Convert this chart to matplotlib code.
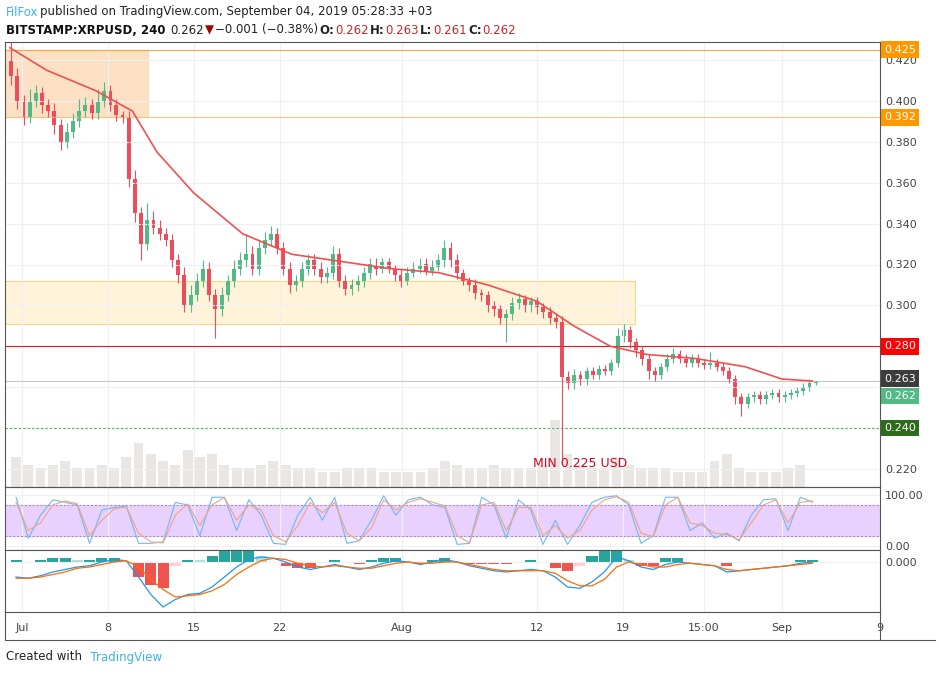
import numpy as np
import matplotlib.pyplot as plt
from matplotlib.patches import Rectangle

# half-day closes, Jul 1 .. Sep 4
closes = [0.412, 0.400, 0.392, 0.400, 0.404, 0.398, 0.395, 0.388, 0.380, 0.385,
          0.390, 0.395, 0.398, 0.394, 0.400, 0.405, 0.398, 0.393, 0.392, 0.362,
          0.345, 0.330, 0.342, 0.338, 0.335, 0.332, 0.322, 0.315, 0.300, 0.305,
          0.312, 0.318, 0.305, 0.298, 0.305, 0.312, 0.318, 0.322, 0.325, 0.318,
          0.328, 0.332, 0.335, 0.328, 0.318, 0.310, 0.312, 0.318, 0.322, 0.318,
          0.314, 0.316, 0.325, 0.312, 0.308, 0.310, 0.312, 0.316, 0.320, 0.318,
          0.321, 0.318, 0.315, 0.312, 0.316, 0.318, 0.320, 0.317, 0.319, 0.322,
          0.328, 0.322, 0.316, 0.312, 0.310, 0.306, 0.305, 0.300, 0.298, 0.294,
          0.296, 0.301, 0.303, 0.300, 0.302, 0.299, 0.297, 0.294, 0.292, 0.265,
          0.262, 0.266, 0.264, 0.268, 0.266, 0.269, 0.268, 0.272, 0.285, 0.288,
          0.282, 0.278, 0.274, 0.268, 0.266, 0.270, 0.274, 0.276, 0.274, 0.272,
          0.274, 0.272, 0.271, 0.272, 0.270, 0.268, 0.264, 0.255, 0.252, 0.255,
          0.256, 0.254, 0.256, 0.257, 0.255, 0.256, 0.257, 0.258, 0.260, 0.262,
          0.262]
first_open = 0.420
# wick extensions (price above / below body) per half-day candle
wick_up = [0.010, 0.004, 0.003, 0.006, 0.004, 0.003, 0.003, 0.004, 0.003, 0.004,
           0.004, 0.006, 0.004, 0.003, 0.006, 0.004, 0.003, 0.003, 0.002, 0.003,
           0.004, 0.003, 0.008, 0.004, 0.004, 0.003, 0.003, 0.003, 0.004, 0.005,
           0.004, 0.004, 0.003, 0.003, 0.004, 0.003, 0.004, 0.004, 0.010, 0.004,
           0.004, 0.004, 0.004, 0.003, 0.003, 0.003, 0.003, 0.003, 0.003, 0.003,
           0.003, 0.003, 0.004, 0.003, 0.003, 0.003, 0.003, 0.003, 0.003, 0.003,
           0.002, 0.002, 0.002, 0.003, 0.003, 0.003, 0.003, 0.003, 0.003, 0.003,
           0.004, 0.003, 0.003, 0.002, 0.002, 0.003, 0.002, 0.002, 0.002, 0.002,
           0.002, 0.003, 0.003, 0.002, 0.002, 0.002, 0.002, 0.002, 0.002, 0.003,
           0.003, 0.003, 0.002, 0.002, 0.002, 0.002, 0.002, 0.002, 0.004, 0.003,
           0.002, 0.002, 0.002, 0.002, 0.002, 0.002, 0.002, 0.003, 0.002, 0.002,
           0.002, 0.002, 0.002, 0.005, 0.002, 0.002, 0.002, 0.002, 0.002, 0.002,
           0.002, 0.002, 0.002, 0.002, 0.002, 0.002, 0.002, 0.002, 0.002, 0.002,
           0.001]
wick_dn = [0.004, 0.004, 0.004, 0.003, 0.003, 0.004, 0.003, 0.004, 0.004, 0.003,
           0.003, 0.003, 0.003, 0.003, 0.003, 0.003, 0.003, 0.003, 0.003, 0.004,
           0.004, 0.008, 0.003, 0.003, 0.003, 0.003, 0.003, 0.004, 0.003, 0.003,
           0.003, 0.003, 0.003, 0.014, 0.003, 0.003, 0.003, 0.003, 0.003, 0.003,
           0.003, 0.003, 0.003, 0.003, 0.003, 0.004, 0.003, 0.003, 0.003, 0.003,
           0.003, 0.003, 0.003, 0.003, 0.003, 0.003, 0.003, 0.003, 0.003, 0.003,
           0.002, 0.002, 0.003, 0.003, 0.002, 0.002, 0.002, 0.002, 0.002, 0.002,
           0.003, 0.003, 0.003, 0.002, 0.003, 0.003, 0.003, 0.003, 0.003, 0.003,
           0.012, 0.003, 0.003, 0.003, 0.003, 0.003, 0.003, 0.003, 0.003, 0.040,
           0.003, 0.003, 0.003, 0.003, 0.002, 0.002, 0.002, 0.002, 0.002, 0.003,
           0.003, 0.003, 0.003, 0.004, 0.003, 0.002, 0.002, 0.002, 0.002, 0.002,
           0.002, 0.002, 0.002, 0.002, 0.002, 0.002, 0.002, 0.003, 0.006, 0.002,
           0.002, 0.002, 0.002, 0.002, 0.002, 0.002, 0.002, 0.002, 0.002, 0.002,
           0.001]

# moving average (day, price)
ma_days = [-1.0, 2, 6, 9, 11, 14, 18, 22, 30, 34, 38, 42, 45, 48, 51, 55, 59, 62, 64.5]
ma_vals = [0.426, 0.415, 0.405, 0.395, 0.375, 0.355, 0.335, 0.325, 0.318, 0.316,
           0.310, 0.302, 0.290, 0.280, 0.276, 0.274, 0.270, 0.264, 0.263]

# daily volume (relative)
volume = [8, 6, 5, 6, 7, 5, 5, 6, 5, 8, 12, 9, 7, 6, 10, 8, 9, 6, 5, 5,
          6, 7, 6, 5, 5, 4, 4, 5, 5, 5, 4, 4, 4, 4, 5, 7, 6, 5, 5, 6,
          5, 5, 5, 6, 18, 9, 6, 5, 5, 8, 6, 5, 5, 5, 4, 4, 4, 7, 9, 5,
          4, 4, 4, 5, 6]

# stochastic RSI, per day
stoch_k = [95, 15, 60, 90, 85, 80, 5, 70, 75, 78, 5, 5, 8, 85, 80, 20, 95, 95, 30, 90,
           60, 5, 3, 60, 95, 50, 95, 5, 10, 50, 98, 60, 90, 95, 80, 75, 3, 5, 95, 80,
           15, 90, 70, 3, 50, 3, 40, 85, 95, 98, 80, 5, 20, 95, 95, 30, 45, 15, 25, 10,
           60, 90, 92, 30, 95, 85]
stoch_d = [85, 30, 45, 80, 88, 82, 20, 50, 72, 76, 25, 8, 6, 60, 82, 40, 80, 95, 50, 80,
           70, 20, 8, 40, 85, 65, 85, 25, 10, 35, 90, 70, 85, 92, 85, 78, 20, 6, 80, 85,
           30, 75, 75, 20, 40, 15, 30, 70, 90, 96, 85, 25, 18, 80, 95, 45, 40, 25, 22, 12,
           45, 80, 90, 45, 85, 88]

# MACD, per day
macd = [-0.012, -0.013, -0.011, -0.008, -0.006, -0.004, -0.003, 0.000, 0.002, 0.001,
        -0.012, -0.026, -0.036, -0.030, -0.026, -0.025, -0.020, -0.012, -0.004, 0.002,
        0.004, 0.003, 0.000, -0.004, -0.006, -0.004, -0.002, -0.004, -0.006, -0.004,
        -0.001, 0.001, 0.000, -0.002, 0.000, 0.002, 0.000, -0.003, -0.005, -0.007,
        -0.008, -0.007, -0.006, -0.007, -0.012, -0.020, -0.021, -0.016, -0.008, 0.004,
        0.001, -0.004, -0.006, -0.002, 0.000, -0.001, -0.002, -0.003, -0.008, -0.007,
        -0.006, -0.005, -0.004, -0.003, -0.001, 0.000]
signal = [-0.013, -0.013, -0.012, -0.010, -0.008, -0.005, -0.004, -0.002, 0.000, 0.001,
          -0.004, -0.014, -0.022, -0.028, -0.027, -0.026, -0.023, -0.018, -0.010, -0.004,
          0.001, 0.003, 0.002, -0.001, -0.003, -0.004, -0.003, -0.004, -0.005, -0.005,
          -0.003, -0.001, 0.000, -0.001, -0.001, 0.000, 0.000, -0.002, -0.004, -0.006,
          -0.007, -0.007, -0.007, -0.007, -0.009, -0.015, -0.019, -0.019, -0.014, -0.004,
          0.000, -0.002, -0.004, -0.004, -0.002, -0.001, -0.002, -0.003, -0.006, -0.007,
          -0.006, -0.005, -0.004, -0.003, -0.002, -0.001]

x_ticks = [0, 7, 14, 21, 31, 42, 49, 55.6, 62, 70]
x_labels = ['Jul', '8', '15', '22', 'Aug', '12', '19', '15:00', 'Sep', '9']
price_ticks = [0.22, 0.24, 0.26, 0.28, 0.30, 0.32, 0.34, 0.36, 0.38, 0.40, 0.42]
# tick labels hidden behind the coloured price boxes in the reference
covered = [0.24, 0.26, 0.28]

UP, DN = '#53b987', '#eb4d5c'
GRID = '#eef0f3'
W, H = 939, 675
XL = (-1.4, 69.8)

plt.rcParams['font.family'] = 'DejaVu Sans'
fig = plt.figure(figsize=(W / 100, H / 100), dpi=100)
renderer = fig.canvas.get_renderer()


def px_axes(top, bottom):
    return fig.add_axes([5 / W, 1 - bottom / H, 875 / W, (bottom - top) / H])


def style(ax):
    ax.set_xlim(*XL)
    ax.yaxis.tick_right()
    ax.tick_params(axis='both', length=0, labelsize=8, colors='#444444')
    ax.set_xticks(x_ticks)
    ax.set_xticklabels([])
    ax.grid(True, color=GRID, lw=0.8)
    for s in ax.spines.values():
        s.set_color('#555555')
        s.set_linewidth(0.8)


def chain(x, y, parts, size=8.5):
    # write text pieces one after another on one line (pixel coords)
    for txt, col, bold in parts:
        t = fig.text(x / W, 1 - y / H, txt, color=col, fontsize=size,
                     fontweight='bold' if bold else 'normal', va='center')
        x += t.get_window_extent(renderer).width + 1
    return x


# ---------- main price panel ----------
ax = px_axes(42, 487)

# volume at the bottom
vax = ax.twinx()
vax.set_ylim(0, 120)
vax.set_yticks([])
vax.set_xlim(*XL)
vax.bar(np.arange(len(volume)) - 0.5, volume, width=0.8, color='#e2dcd8', alpha=0.7)
for s in vax.spines.values():
    s.set_visible(False)
ax.set_zorder(vax.get_zorder() + 1)
ax.patch.set_visible(False)

style(ax)
ax.set_ylim(0.2112, 0.4288)
ax.set_yticks(price_ticks)
ax.set_yticklabels(['' if any(abs(v - c) < 1e-9 for c in covered) else '%.3f' % v
                    for v in price_ticks])

ax.add_patch(Rectangle((XL[0], 0.392), 10.3 - XL[0], 0.033, color='#fbd9b5', alpha=0.8, zorder=0))
ax.add_patch(Rectangle((XL[0], 0.291), 50.0 - XL[0], 0.021, facecolor='#fff3d9',
                       edgecolor='#f5d68a', lw=0.8, zorder=0))
ax.axhline(0.425, color='#f7a64a', lw=0.8)
ax.axhline(0.392, color='#f2c48a', lw=0.8)
ax.axhline(0.280, color='#e31b23', lw=0.8)
ax.axhline(0.263, color='#c8c8c8', lw=0.8)
ax.axhline(0.240, color='#4caf50', lw=0.8, ls=(0, (2, 2)))

t = np.arange(len(closes)) * 0.505 - 0.9
opens = [first_open] + closes[:-1]
for i in range(len(closes)):
    o, c = opens[i], closes[i]
    col = UP if c >= o else DN
    ax.vlines(t[i], min(o, c) - wick_dn[i], max(o, c) + wick_up[i], color=col, lw=0.8)
    ax.bar(t[i], max(abs(c - o), 0.0006), bottom=min(o, c), width=0.32, color=col)
ax.plot(ma_days, ma_vals, color='#f0504f', lw=1.2)
ax.text(45.5, 0.2195, 'MIN 0.225 USD', color='#d0021b', fontsize=9, ha='center', va='bottom')

labels = [(0.425, '0.425', '#ff9800'), (0.392, '0.392', '#ff9800'),
          (0.280, '0.280', '#ff0000'), (0.2642, '0.263', '#3c3c3c'),
          (0.2557, '0.262', '#53b987'), (0.240, '0.240', '#2e6b1d')]
for y, txt, bg in labels:
    ax.text(1.0 + 4 / 875, y, txt, transform=ax.get_yaxis_transform(), fontsize=8,
            color='white', va='center', ha='left',
            bbox=dict(boxstyle='square,pad=0.3', fc=bg, ec='none'))

# ---------- stochastic RSI ----------
rax = px_axes(487, 550)
style(rax)
rax.set_ylim(-8, 115)
rax.set_yticks([0, 100])
rax.set_yticklabels(['0.00', '100.00'])
rax.axhspan(20, 80, color='#e6ccff', alpha=0.9)
rax.axhline(80, color='#9e86b5', lw=0.7, ls=(0, (2, 2)))
rax.axhline(20, color='#9e86b5', lw=0.7, ls=(0, (2, 2)))
d = np.arange(len(stoch_k)) - 0.5
rax.plot(d, stoch_k, color='#6fb8f7', lw=0.8)
rax.plot(d, stoch_d, color='#f4a27a', lw=0.8)

# ---------- MACD ----------
max_ = px_axes(550, 612)
style(max_)
max_.set_ylim(-0.040, 0.0096)
max_.set_yticks([0.0])
max_.set_yticklabels(['0.000'])
dm = np.arange(len(macd)) - 0.5
hist = np.array(macd) - np.array(signal)
hcol = []
for i, h in enumerate(hist):
    prev = hist[i - 1] if i else h
    if h >= 0:
        hcol.append('#26a69a' if h >= prev else '#b2dfdb')
    else:
        hcol.append('#ef5350' if h <= prev else '#ffcdd2')
max_.bar(dm, hist * 1.5, width=0.9, color=hcol)
max_.plot(dm, macd, color='#2196f3', lw=0.9)
max_.plot(dm, signal, color='#ff6d00', lw=0.9)
max_.set_xticklabels(x_labels)
max_.tick_params(axis='x', pad=8)

# outer frame under the dates
fig.add_artist(plt.Line2D([5 / W, 5 / W, 935 / W], [1 - 612 / H, 1 - 640 / H, 1 - 640 / H],
                          color='#555555', lw=0.8))
fig.add_artist(plt.Line2D([880 / W, 880 / W], [1 - 612 / H, 1 - 640 / H], color='#555555', lw=0.8))

# header texts
chain(6, 12, [('FilFox', '#3bb3e4', False),
              ('published on TradingView.com, September 04, 2019 05:28:33 +03', '#222222', False)])
chain(6, 30, [('BITSTAMP:XRPUSD, 240 ', '#111111', True), ('0.262', '#222222', False),
              ('\u25bc', '#a30000', False), ('\u22120.001 (\u22120.38%)', '#222222', False),
              ('O:', '#222222', True), ('0.262', '#c62828', False),
              ('H:', '#222222', True), ('0.263', '#c62828', False),
              ('L:', '#222222', True), ('0.261', '#c62828', False),
              ('C:', '#222222', True), ('0.262', '#c62828', False)])
chain(6, 657, [('Created with', '#222222', False), ('  TradingView', '#3bb3e4', False)])

fig.savefig('out.png', dpi=100)
